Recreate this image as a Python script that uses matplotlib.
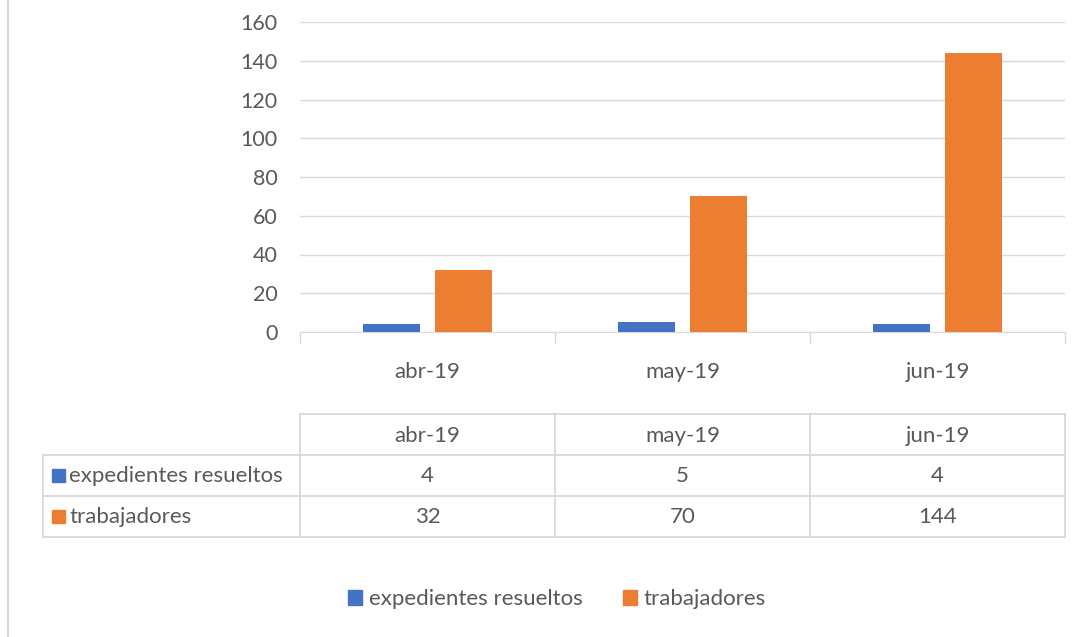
import matplotlib
matplotlib.use("Agg")
import matplotlib.pyplot as plt
import matplotlib.transforms as mtransforms
from matplotlib.lines import Line2D
from matplotlib.patches import Rectangle, Patch

meses = ["abr-19", "may-19", "jun-19"]
expedientes = [4, 5, 4]
trabajadores = [32, 70, 144]
series = ["expedientes resueltos", "trabajadores"]
colores = ["#4472C4", "#ED7D31"]

gris_txt = "#595959"
gris_linea = "#D9D9D9"
W, H = 1090, 637
fs = 16

plt.rcParams['font.family'] = ['Lato', 'DejaVu Sans']
fig = plt.figure(figsize=(W / 100, H / 100), dpi=100)


def fx(p):
    return p / W


def fy(p):
    return 1 - p / H


ax = fig.add_axes([fx(300), fy(332), fx(1065) - fx(300), fy(22) - fy(332)])

x = [i + 0.5 for i in range(len(meses))]
ancho = 0.224
desp = 0.142
ax.bar([v - desp for v in x], expedientes, ancho, color=colores[0], zorder=3)
ax.bar([v + desp for v in x], trabajadores, ancho, color=colores[1], zorder=3)

ax.set_xlim(0, 3)
ax.set_ylim(0, 160)
ax.set_yticks(range(0, 161, 20))
ax.yaxis.grid(True, color=gris_linea, linewidth=1)
ax.set_axisbelow(True)
for s in ["top", "right", "left"]:
    ax.spines[s].set_visible(False)
ax.spines["bottom"].set_color(gris_linea)
ax.tick_params(axis="y", length=0, labelsize=fs - 0.5, labelcolor=gris_txt, pad=16)
ax.set_xticks([0, 1, 2, 3])
ax.set_xticklabels([])
ax.tick_params(axis="x", length=8, color=gris_linea, width=1)
for xi, m in zip(x, meses):
    ax.text(xi, -40 / 310 * 160, m, ha="center", va="center", fontsize=fs, color=gris_txt)

# tabla de datos
bt = mtransforms.blended_transform_factory(ax.transData, fig.transFigure)
for xv in [0, 1, 2, 3]:
    fig.add_artist(Line2D([xv, xv], [fy(414), fy(537)], transform=bt, color=gris_linea, lw=1.3))
fig.add_artist(Line2D([fx(300), fx(1065)], [fy(414)] * 2, transform=fig.transFigure, color=gris_linea, lw=1.3))
for yp in [455, 496, 537]:
    fig.add_artist(Line2D([fx(43), fx(1065)], [fy(yp)] * 2, transform=fig.transFigure, color=gris_linea, lw=1.3))
fig.add_artist(Line2D([fx(43), fx(43)], [fy(455), fy(537)], transform=fig.transFigure, color=gris_linea, lw=1.3))

for xi, m in zip(x, meses):
    fig.text(xi, fy(436), m, transform=bt, ha="center", va="center", fontsize=fs, color=gris_txt)
for fila, (nombre, vals, col) in enumerate(zip(series, [expedientes, trabajadores], colores)):
    yc = 476 + fila * 41
    fig.add_artist(Rectangle((fx(52), fy(yc + 6)), fx(13), 13 / H, transform=fig.transFigure, color=col))
    fig.text(fx(69), fy(yc), nombre, ha="left", va="center", fontsize=fs, color=gris_txt)
    for xi, v in zip(x, vals):
        fig.text(xi, fy(yc), str(v), transform=bt, ha="center", va="center", fontsize=fs, color=gris_txt)

# leyenda
handles = [Patch(color=c) for c in colores]
fig.legend(handles, series, loc="center", bbox_to_anchor=(fx(557), fy(599)), ncol=2, frameon=False,
           fontsize=fs, labelcolor=gris_txt, handlelength=0.65, handleheight=0.65,
           handletextpad=0.3, columnspacing=1.8)

# borde izquierdo del gráfico
fig.add_artist(Line2D([fx(8), fx(8)], [0, 1], transform=fig.transFigure, color=gris_linea, lw=1.5))

fig.savefig("out.png", dpi=100)
